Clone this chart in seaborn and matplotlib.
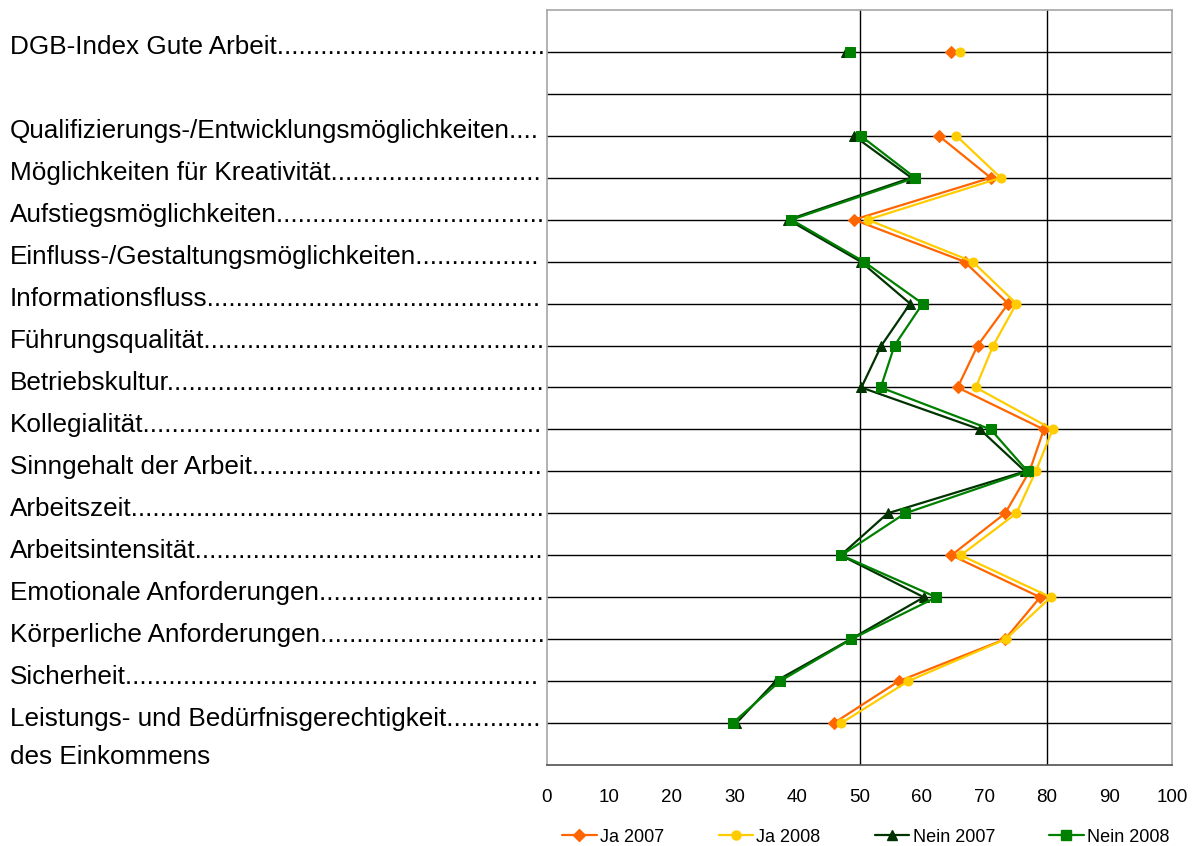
import matplotlib
matplotlib.use("Agg")
import matplotlib.pyplot as plt
import matplotlib.transforms as mtransforms
from matplotlib.lines import Line2D
import seaborn as sns

# --- data -------------------------------------------------------------
index_label = "DGB-Index Gute Arbeit"
categories = [
    "Qualifizierungs-/Entwicklungsmöglichkeiten",
    "Möglichkeiten für Kreativität",
    "Aufstiegsmöglichkeiten",
    "Einfluss-/Gestaltungsmöglichkeiten",
    "Informationsfluss",
    "Führungsqualität",
    "Betriebskultur",
    "Kollegialität",
    "Sinngehalt der Arbeit",
    "Arbeitszeit",
    "Arbeitsintensität",
    "Emotionale Anforderungen",
    "Körperliche Anforderungen",
    "Sicherheit",
    "Leistungs- und Bedürfnisgerechtigkeit",
]
last_label_line2 = "des Einkommens"

# index value first, then one value per category
ja_2007 = [64.6, 62.7, 71.0, 49.1, 66.8, 73.8, 68.9, 65.7, 79.5, 77.2, 73.3, 64.7, 78.9, 73.3, 56.3, 45.9]
ja_2008 = [66.1, 65.5, 72.6, 51.3, 68.1, 75.1, 71.4, 68.6, 80.9, 78.2, 75.1, 66.2, 80.6, 73.4, 57.8, 47.1]
nein_2007 = [47.9, 49.1, 58.3, 38.6, 50.2, 58.1, 53.5, 50.3, 69.3, 76.5, 54.5, 47.0, 60.3, 48.6, 36.6, 30.3]
nein_2008 = [48.5, 50.2, 58.9, 39.1, 50.7, 60.1, 55.6, 53.4, 71.0, 76.9, 57.3, 47.1, 62.3, 48.7, 37.3, 29.7]

series_names = ["Ja 2007", "Ja 2008", "Nein 2007", "Nein 2008"]
x_ticks = list(range(0, 101, 10))

# --- styling -----------------------------------------------------------
sns.set_style("white")
plt.rcParams["font.family"] = ["Liberation Sans", "DejaVu Sans"]

styles = {
    "Ja 2007": dict(color="#FF6600", marker="D", ms=6.0),
    "Ja 2008": dict(color="#FFCC00", marker="o", ms=6.5),
    "Nein 2007": dict(color="#003300", marker="^", ms=7.5),
    "Nein 2008": dict(color="#008000", marker="s", ms=7.0),
}
values = {"Ja 2007": ja_2007, "Ja 2008": ja_2008,
          "Nein 2007": nein_2007, "Nein 2008": nein_2008}

W, H = 1196, 846
fig = plt.figure(figsize=(W / 100, H / 100), dpi=100)
ax = fig.add_axes([547 / W, 1 - 765 / H, (1172 - 547) / W, (765 - 10) / H])

# row positions: index on row 1, row 2 left blank, categories on rows 3..17
index_pos = 1
cat_pos = list(range(3, 3 + len(categories)))

for name in series_names:
    st = styles[name]
    vals = values[name]
    sns.lineplot(x=vals[1:], y=cat_pos, ax=ax, estimator=None, sort=False,
                 orient="y", color=st["color"], lw=1.6, marker=st["marker"],
                 markersize=st["ms"], markeredgecolor=st["color"],
                 markerfacecolor=st["color"], zorder=3)
    sns.lineplot(x=[vals[0]], y=[index_pos], ax=ax, estimator=None,
                 sort=False, orient="y", color=st["color"], lw=0,
                 marker=st["marker"], markersize=st["ms"],
                 markeredgecolor=st["color"], markerfacecolor=st["color"],
                 zorder=3)

ax.set_xlim(0, 100)
ax.set_ylim(18, 0)
ax.set_xticks(x_ticks)
ax.set_xticklabels([str(t) for t in x_ticks])
ax.set_yticks(list(range(1, 18)))
ax.set_yticklabels([])
ax.tick_params(axis="y", length=0)
ax.tick_params(axis="x", direction="out", length=4.5, width=1,
               color="#505050", labelcolor="black", labelsize=13.5, pad=13)
ax.set_xlabel("")
ax.set_ylabel("")
ax.grid(axis="y", color="black", lw=1.0, zorder=1)
ax.grid(axis="x", visible=False)
for xv in (50, 80):
    ax.axvline(xv, color="black", lw=1.0, zorder=1)

for side in ("top", "right", "left"):
    ax.spines[side].set_color("#a6a6a6")
    ax.spines[side].set_linewidth(1.2)
ax.spines["bottom"].set_color("#505050")
ax.spines["bottom"].set_linewidth(1.2)

# --- row labels with dotted leaders -------------------------------------
trans = mtransforms.blended_transform_factory(fig.transFigure, ax.transData)
label_x = 10 / W
label_font = 18.8
baseline_shift = 0.06
texts = []
for txt, pos in [(index_label, index_pos)] + list(zip(categories, cat_pos)):
    t = fig.text(label_x, pos + baseline_shift, txt, transform=trans,
                 ha="left", va="baseline", fontsize=label_font, color="black")
    texts.append((t, txt))
fig.text(label_x, cat_pos[-1] + 0.98, last_label_line2, transform=trans,
         ha="left", va="baseline", fontsize=label_font, color="black")

renderer = fig.canvas.get_renderer()
leader_end = 546
for t, base in texts:
    n = 0
    while True:
        t.set_text(base + "." * (n + 1))
        if t.get_window_extent(renderer).x1 > leader_end:
            t.set_text(base + "." * n)
            break
        n += 1

# --- legend ---------------------------------------------------------------
handles = [Line2D([0], [0], color=styles[n]["color"], lw=1.6,
                  marker=styles[n]["marker"], markersize=styles[n]["ms"],
                  markerfacecolor=styles[n]["color"],
                  markeredgecolor=styles[n]["color"]) for n in series_names]
leg = fig.legend(handles, series_names, loc="center",
                 bbox_to_anchor=(866 / W, 1 - 837 / H), ncol=4, frameon=False,
                 fontsize=13, handlelength=1.9, handletextpad=0.2,
                 columnspacing=3.0, borderpad=0, borderaxespad=0)
for txt in leg.get_texts():
    txt.set_color("black")

fig.savefig("out.png", dpi=100, facecolor="white")
